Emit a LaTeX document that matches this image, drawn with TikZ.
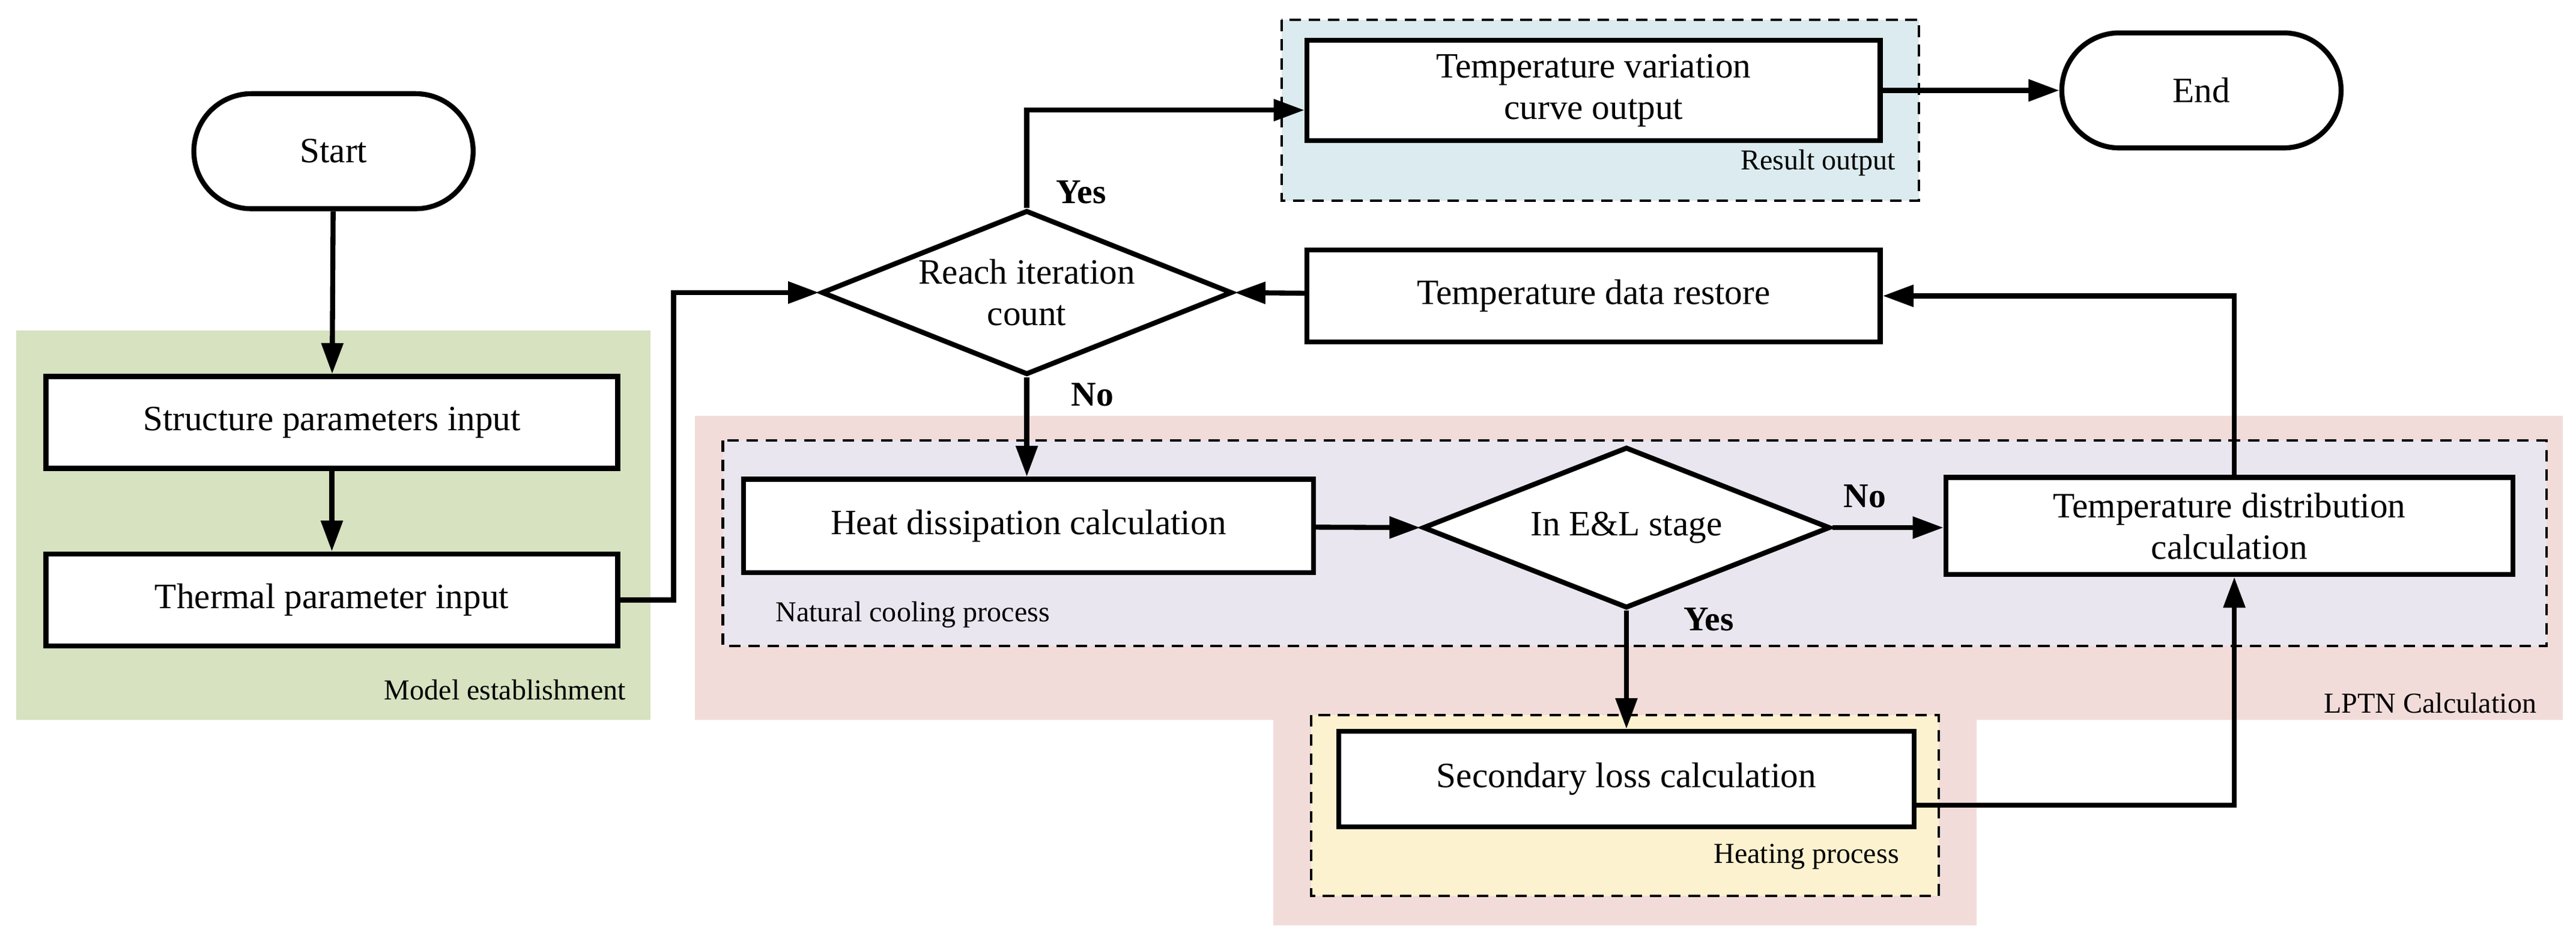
\documentclass[tikz,border=0pt]{standalone}
\usepackage{fontspec}
\setmainfont{Liberation Serif}
\usetikzlibrary{shapes.geometric,arrows.meta}
\definecolor{cgreen}{HTML}{D6E2C0}
\definecolor{cblue}{HTML}{DBEBEF}
\definecolor{cpink}{HTML}{F2DCDA}
\definecolor{clav}{HTML}{E9E6F0}
\definecolor{cyel}{HTML}{FDF2CF}
\begin{document}
\begin{tikzpicture}[x=0.03cm,y=-0.03cm,
  box/.style={draw,line width=2.6pt,fill=white,font=\fontsize{18.5}{21.5}\selectfont,align=center},
  dbox/.style={draw,dash pattern=on 6pt off 4pt,line width=1.3pt},
  lab/.style={font=\fontsize{15}{17}\selectfont},
  yn/.style={font=\bfseries\fontsize{18}{21}\selectfont},
  arr/.style={line width=2.6pt,-{Triangle[length=16pt,width=11pt]}}]
\useasboundingbox (0,0) rectangle (1568,572.5);
% backgrounds
\fill[cgreen] (10,201) rectangle (396,438);
\fill[cpink] (423,253) rectangle (1560,438);
\fill[cpink] (775,438) rectangle (1203,563);
\filldraw[dbox,fill=clav] (440,268) rectangle (1550,393);
\filldraw[dbox,fill=cyel] (798,435) rectangle (1180,545);
\filldraw[dbox,fill=cblue] (780,12) rectangle (1168,122);
\node[lab,anchor=south east] (lme) at (385,430) {Model establishment};
\node[lab,anchor=south east] (llp) at (1548,438) {LPTN Calculation};
\node[lab,anchor=south west] (lnc) at (468,386) {Natural cooling process};
\node[lab,anchor=south east] (lhp) at (1160,533) {Heating process};
\node[lab,anchor=south east] (lro) at (1158,111) {Result output};
% nodes
\node[box,rounded corners=35*0.03cm,minimum width=170*0.03cm,minimum height=70*0.03cm] (start) at (203,92) {Start};
\node[box,minimum width=348*0.03cm,minimum height=56*0.03cm] (sp) at (202,257) {Structure parameters input};
\node[box,minimum width=348*0.03cm,minimum height=56*0.03cm] (tp) at (202,365) {Thermal parameter input};
\node[box,diamond,aspect=2.5,minimum width=250*0.03cm,minimum height=100*0.03cm,inner sep=0pt] (d1) at (625,178) {Reach iteration\\count};
\node[box,minimum width=349*0.03cm,minimum height=61*0.03cm] (tv) at (970,55) {Temperature variation\\curve output};
\node[box,rounded corners=35*0.03cm,minimum width=170*0.03cm,minimum height=70*0.03cm] (end) at (1340,55) {End};
\node[box,minimum width=349*0.03cm,minimum height=56*0.03cm] (tr) at (970,180) {Temperature data restore};
\node[box,minimum width=347*0.03cm,minimum height=57*0.03cm] (hd) at (626,320) {Heat dissipation calculation};
\node[box,diamond,aspect=2.5,minimum width=248*0.03cm,minimum height=98*0.03cm,inner sep=0pt] (d2) at (990,321) {In E\&L stage};
\node[box,minimum width=345*0.03cm,minimum height=59*0.03cm] (td) at (1357,320) {Temperature distribution\\calculation};
\node[box,minimum width=350*0.03cm,minimum height=58*0.03cm] (sl) at (990,474) {Secondary loss calculation};
\coordinate (c1) at (410,365);
\coordinate (c2) at (410,178);
\coordinate (c3) at (625,67);
\coordinate (c4) at (1360,490);
\coordinate (c5) at (1360,180);
% connectors
\draw[arr] (start) -- (sp);
\draw[arr] (sp) -- (tp);
\draw[arr] (tp.east) -- (c1) -- (c2) -- (d1.west);
\draw[arr] (d1.north) -- (c3) -- (tv.west|-c3);
\draw[arr] (tv) -- (end);
\draw[arr] (tr) -- (d1.east);
\draw[arr] (d1.south) -- (hd.north-|d1.south);
\draw[arr] (hd) -- (d2.west);
\draw[arr] (d2.east) -- (td.west|-d2.east);
\draw[arr] (d2.south) -- (sl.north);
\draw[arr] (sl.east|-c4) -- (c4) -- (c4|-td.south);
\draw[arr] (c5|-td.north) -- (c5) -- (tr.east);
\node[yn] (y1) at (658,117) {Yes};
\node[yn] (n1) at (665,240) {No};
\node[yn] (n2) at (1135,302) {No};
\node[yn] (y2) at (1040,377) {Yes};
\end{tikzpicture}
\end{document}
